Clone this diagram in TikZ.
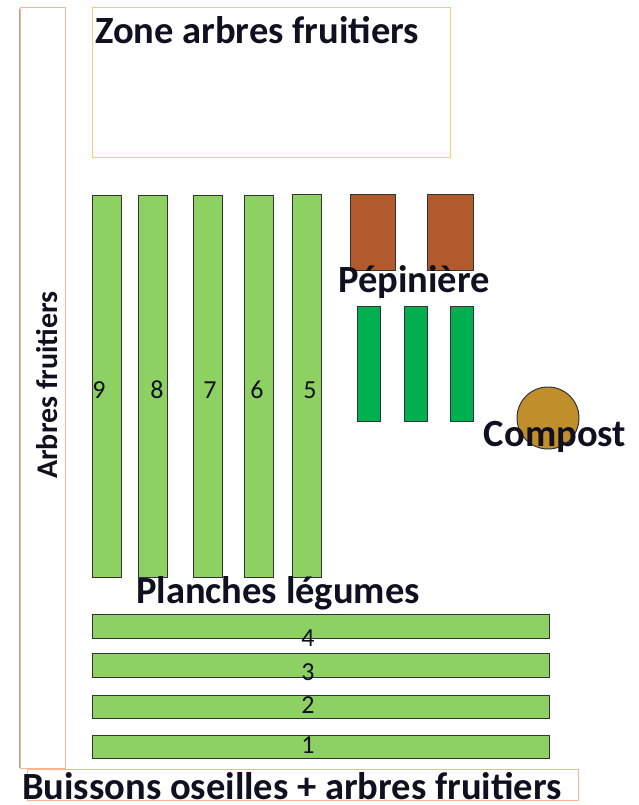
\documentclass[tikz,border=0pt]{standalone}
\usepackage{fontspec}
\setmainfont{Carlito}
\definecolor{salmon}{HTML}{F8B58F}
\definecolor{zoneor}{HTML}{FFCC66}
\definecolor{lgreen}{HTML}{8DD163}
\definecolor{dgreen}{HTML}{00B050}
\definecolor{brown}{HTML}{B35A2C}
\definecolor{compc}{HTML}{C08F2C}
\definecolor{edge}{HTML}{333333}
\definecolor{ink}{HTML}{101020}
\begin{document}
\begin{tikzpicture}[x=1pt,y=-1pt,
  zonebox/.style={draw=#1, line width=1.2pt, fill=white, anchor=north west, inner sep=0pt},
  bed/.style={draw=edge, line width=1.1pt, fill=#1, anchor=north west, inner sep=0pt},
  lbl/.style={font=\bfseries\fontsize{38.5}{42}\selectfont, text=ink, inner sep=0pt},
  num/.style={font=\fontsize{26}{28}\selectfont, text=ink, inner sep=0pt}]
\useasboundingbox (0,0) rectangle (638,805);
% left strip
\draw[gray!70, line width=1.5pt] (20,9) -- (20,768);
\node[zonebox=salmon, minimum width=45pt, minimum height=761pt] (left) at (20,7) {};
\node[lbl, font=\bfseries\fontsize{30}{32}\selectfont, rotate=90] (leftlbl) at (47,385) {Arbres fruitiers};
% zone
\node[zonebox=zoneor, minimum width=358pt, minimum height=150pt] (zone) at (92,7) {};
\node[lbl, anchor=west] (zonelbl) at (95,30) {Zone arbres fruitiers};
% vertical beds
\node[bed=lgreen, minimum width=29pt, minimum height=382pt] (b9) at (92,195) {};
\node[bed=lgreen, minimum width=29pt, minimum height=382pt] (b8) at (138,195) {};
\node[bed=lgreen, minimum width=29pt, minimum height=382pt] (b7) at (193,195) {};
\node[bed=lgreen, minimum width=29pt, minimum height=382pt] (b6) at (244,195) {};
\node[bed=lgreen, minimum width=29pt, minimum height=383pt] (b5) at (292,194) {};
\node[num] (n9) at (99,390) {9};
\node[num] (n8) at (157,390) {8};
\node[num] (n7) at (210,390) {7};
\node[num] (n6) at (257,390) {6};
\node[num] (n5) at (310,390) {5};
% nursery
\node[bed=brown, minimum width=45pt, minimum height=76pt] (p1) at (350,194) {};
\node[bed=brown, minimum width=46pt, minimum height=76pt] (p2) at (427,194) {};
\node[bed=dgreen, minimum width=23pt, minimum height=115pt] (g1) at (357,306) {};
\node[bed=dgreen, minimum width=23pt, minimum height=115pt] (g2) at (404,306) {};
\node[bed=dgreen, minimum width=23pt, minimum height=115pt] (g3) at (450,306) {};
\node[lbl] (peplbl) at (414,282) {Pépinière};
% compost
\node[circle, draw=edge, line width=1pt, fill=compc, minimum size=62pt, inner sep=0pt] (comp) at (548,418) {};
\node[lbl] (complbl) at (555,437) {Compost};
% horizontal beds
\node[lbl] (planlbl) at (278,593) {Planches légumes};
\node[bed=lgreen, minimum width=457pt, minimum height=24pt] (h4) at (92,614) {};
\node[bed=lgreen, minimum width=457pt, minimum height=24pt] (h3) at (92,653) {};
\node[bed=lgreen, minimum width=457pt, minimum height=23pt] (h2) at (92,695) {};
\node[bed=lgreen, minimum width=457pt, minimum height=23pt] (h1) at (92,735) {};
\node[num] (n4) at (308,638) {4};
\node[num] (n3) at (308,672) {3};
\node[num] (n2) at (308,705) {2};
\node[num] (n1) at (308,745) {1};
% bottom strip
\node[zonebox=salmon, minimum width=551pt, minimum height=31pt, fill=none] (bottom) at (27,769) {};
\node[lbl, anchor=west] (botlbl) at (22,786) {Buissons oseilles + arbres fruitiers};
\end{tikzpicture}
\end{document}
